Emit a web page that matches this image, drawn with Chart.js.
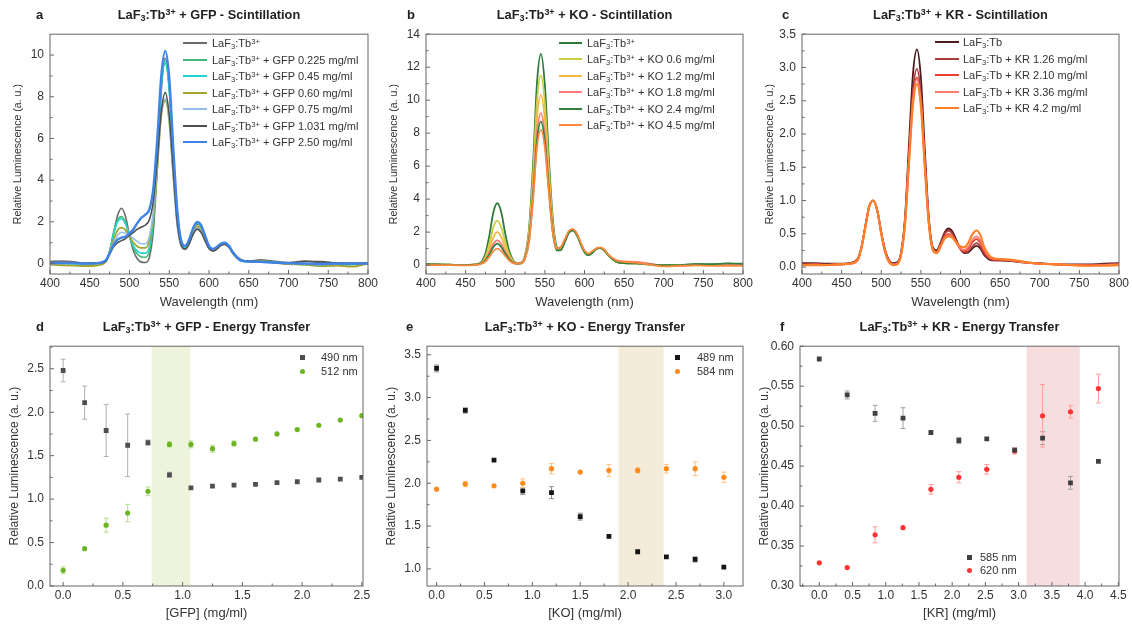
<!DOCTYPE html>
<html>
<head>
<meta charset="utf-8">
<script src="https://cdn.jsdelivr.net/npm/chart.js@4.4.1/dist/chart.umd.min.js"></script>
<style>
  body { margin: 0; background: #fff; font-family: "Liberation Sans", Arial, sans-serif; }
  #page { position: relative; width: 1132px; height: 626px; overflow: hidden; }
  .panel { position: absolute; }
  .panel canvas { display: block; }
  .ttl { position: absolute; font-weight: bold; font-size: 12.8px; line-height: 16px; white-space: nowrap; transform: translateX(-50%); color: #222; }
  .letter { position: absolute; font-weight: bold; font-size: 13px; line-height: 16px; color: #222; }
  .leg { position: absolute; font-size: 11px; color: #333; white-space: nowrap; line-height: 14px; z-index: 2; }
  .leg i { position: absolute; height: 2px; }
  .leg b { position: absolute; font-weight: normal; }
  sub { font-size: 0.7em; vertical-align: -0.25em; line-height: 0; }
  sup { font-size: 0.7em; vertical-align: 0.45em; line-height: 0; }
</style>
</head>
<body>
<div id="page"></div>
<script>
// ---------------------------------------------------------------
// Data
// ---------------------------------------------------------------
const WL = [400, 415, 430, 445, 460,
  470, 475, 480, 485, 490, 495, 500, 505, 510, 515, 520, 525, 530, 535, 540, 545, 550, 555, 560, 565,
  570, 575, 580, 585, 590, 595, 600, 605, 610, 615, 620, 625, 630,
  640, 650, 665, 680, 700, 720, 740, 760, 780, 800];

// a - GFP scintillation
const aLaF3 = [0.10, 0.12, 0.08, 0.02, 0.03,
  0.12, 0.55, 1.45, 2.3, 2.65, 2.25, 1.35, 0.6, 0.22, 0.07, 0.05, 0.3, 1.6, 4.6, 8.3, 9.85, 8.5, 5.2, 2.3, 1.0,
  0.72, 0.98, 1.55, 1.9, 1.75, 1.25, 0.78, 0.62, 0.72, 0.92, 0.97, 0.82, 0.52,
  0.2, 0.12, 0.18, 0.12, 0.05, 0.12, 0.05, 0.02, 0.03, 0.0];
const aGfp0225 = [0.05, 0.0, -0.02, -0.1, -0.05,
  0.1, 0.6, 1.5, 2.1, 2.25, 1.95, 1.3, 0.75, 0.45, 0.32, 0.3, 0.62, 2.0, 5.0, 8.5, 9.6, 8.3, 5.1, 2.3, 1.0,
  0.75, 1.05, 1.6, 1.95, 1.8, 1.3, 0.82, 0.68, 0.78, 0.95, 1.0, 0.85, 0.55,
  0.18, 0.1, 0.12, 0.08, 0.0, -0.02, -0.12, -0.08, -0.05, 0.0];
const aGfp045 = [0.0, 0.02, 0.0, -0.05, -0.03,
  0.1, 0.58, 1.4, 2.0, 2.15, 1.9, 1.35, 0.85, 0.6, 0.5, 0.5, 0.8, 2.2, 5.2, 8.6, 9.7, 8.4, 5.2, 2.3, 1.0,
  0.75, 1.05, 1.6, 1.95, 1.8, 1.3, 0.82, 0.68, 0.78, 0.95, 1.0, 0.85, 0.55,
  0.15, 0.08, 0.1, 0.05, 0.0, -0.05, -0.08, -0.05, -0.02, 0.0];
const aGfp060 = [-0.05, -0.08, -0.1, -0.12, -0.08,
  0.08, 0.55, 1.15, 1.6, 1.72, 1.6, 1.3, 1.0, 0.82, 0.75, 0.75, 1.1, 2.3, 4.6, 7.1, 7.8, 6.8, 4.2, 1.9, 0.85,
  0.68, 0.95, 1.5, 1.8, 1.6, 1.15, 0.75, 0.62, 0.72, 0.9, 0.95, 0.8, 0.5,
  0.15, 0.1, 0.12, 0.05, -0.02, -0.05, -0.12, -0.1, -0.15, 0.0];
const aGfp075 = [0.0, 0.02, 0.0, -0.03, 0.0,
  0.1, 0.5, 1.0, 1.35, 1.5, 1.45, 1.35, 1.2, 1.05, 0.95, 0.95, 1.3, 2.5, 4.8, 7.2, 7.9, 6.9, 4.3, 1.9, 0.85,
  0.7, 0.95, 1.45, 1.7, 1.55, 1.1, 0.72, 0.62, 0.72, 0.9, 0.95, 0.8, 0.5,
  0.12, 0.1, 0.08, 0.05, 0.0, 0.0, -0.05, -0.02, 0.0, 0.02];
const aGfp1031 = [0.05, 0.05, 0.02, 0.0, 0.02,
  0.1, 0.45, 0.8, 1.0, 1.1, 1.2, 1.35, 1.5, 1.65, 1.75, 1.85, 2.1, 3.0, 5.0, 7.3, 8.2, 7.1, 4.5, 2.0, 0.9,
  0.7, 0.95, 1.4, 1.65, 1.5, 1.1, 0.72, 0.6, 0.7, 0.88, 0.92, 0.78, 0.5,
  0.15, 0.12, 0.1, 0.05, 0.0, 0.1, 0.1, 0.02, 0.0, 0.02];
const aGfp250 = [0.02, 0.03, 0.02, 0.0, 0.02,
  0.15, 0.5, 0.9, 1.15, 1.25, 1.3, 1.45, 1.65, 1.95, 2.2, 2.35, 2.6, 3.6, 6.0, 9.0, 10.2, 8.9, 5.6, 2.6, 1.1,
  0.85, 1.15, 1.7, 2.0, 1.85, 1.35, 0.85, 0.7, 0.8, 0.95, 1.0, 0.85, 0.55,
  0.15, 0.1, 0.08, 0.05, 0.02, 0.0, -0.02, 0.0, 0.0, 0.0];
const aLabels = ['LaF3:Tb3+', 'LaF3:Tb3+ + GFP 0.225 mg/ml', 'LaF3:Tb3+ + GFP 0.45 mg/ml', 'LaF3:Tb3+ + GFP 0.60 mg/ml',
  'LaF3:Tb3+ + GFP 0.75 mg/ml', 'LaF3:Tb3+ + GFP 1.031 mg/ml', 'LaF3:Tb3+ + GFP 2.50 mg/ml'];
const aColors = ['#6b6b6b', '#3dba79', '#25d4d4', '#a5a52c', '#93bfe9', '#4f4f4f', '#3f83e6'];

// b - KO scintillation
const bLaF3 = [0.05, 0.05, 0.02, 0.0, 0.02,
  0.2, 0.7, 1.8, 3.2, 3.75, 3.2, 1.9, 0.85, 0.3, 0.12, 0.15, 0.6, 2.2, 6.0, 11.0, 12.8, 10.9, 6.5, 2.8, 1.1,
  0.95, 1.4, 1.95, 2.1, 1.85, 1.3, 0.8, 0.6, 0.75, 1.0, 1.05, 0.9, 0.6,
  0.2, 0.12, 0.1, 0.05, 0.0, 0.0, 0.05, 0.03, 0.08, 0.05];
const bKo06 = [0.03, 0.03, 0.02, 0.0, 0.02,
  0.15, 0.5, 1.3, 2.3, 2.7, 2.3, 1.4, 0.65, 0.25, 0.1, 0.13, 0.55, 2.0, 5.4, 9.9, 11.5, 9.8, 5.9, 2.5, 1.0,
  0.95, 1.45, 2.0, 2.15, 1.9, 1.3, 0.8, 0.62, 0.78, 1.0, 1.05, 0.9, 0.6,
  0.2, 0.12, 0.1, 0.05, -0.02, 0.0, 0.02, 0.0, 0.02, 0.0];
const bKo12 = [0.02, 0.02, 0.0, 0.0, 0.02,
  0.12, 0.38, 0.95, 1.7, 2.0, 1.7, 1.05, 0.5, 0.2, 0.1, 0.12, 0.5, 1.8, 4.9, 8.9, 10.3, 8.8, 5.3, 2.3, 1.0,
  1.0, 1.5, 2.0, 2.15, 1.9, 1.3, 0.82, 0.65, 0.8, 1.0, 1.05, 0.9, 0.6,
  0.22, 0.15, 0.12, 0.05, -0.05, -0.02, 0.0, 0.0, 0.0, 0.0];
const bKo18 = [0.02, 0.0, 0.0, 0.0, 0.02,
  0.1, 0.3, 0.75, 1.28, 1.5, 1.28, 0.8, 0.4, 0.17, 0.1, 0.12, 0.45, 1.6, 4.4, 8.0, 9.2, 7.9, 4.8, 2.1, 1.0,
  1.05, 1.5, 2.0, 2.15, 1.9, 1.35, 0.85, 0.68, 0.82, 1.0, 1.05, 0.92, 0.62,
  0.3, 0.22, 0.2, 0.1, -0.05, -0.05, 0.0, 0.0, 0.0, 0.0];
const bKo24 = [0.05, 0.03, 0.02, 0.0, 0.02,
  0.1, 0.27, 0.65, 1.1, 1.3, 1.1, 0.7, 0.35, 0.15, 0.08, 0.1, 0.42, 1.5, 4.1, 7.5, 8.7, 7.5, 4.6, 2.0, 0.9,
  0.9, 1.4, 1.95, 2.1, 1.85, 1.3, 0.8, 0.6, 0.75, 0.98, 1.03, 0.9, 0.6,
  0.2, 0.12, 0.1, 0.05, 0.0, 0.0, 0.05, 0.05, 0.1, 0.08];
const bKo45 = [0.0, 0.0, 0.0, -0.02, 0.0,
  0.08, 0.22, 0.5, 0.85, 1.0, 0.85, 0.55, 0.28, 0.12, 0.08, 0.1, 0.4, 1.4, 3.9, 7.1, 8.2, 7.1, 4.4, 1.95, 1.0,
  1.1, 1.55, 2.05, 2.2, 1.95, 1.4, 0.88, 0.7, 0.85, 1.02, 1.08, 0.95, 0.65,
  0.28, 0.2, 0.15, 0.05, -0.08, -0.05, -0.02, -0.05, -0.05, -0.05];
const bLabels = ['LaF3:Tb3+', 'LaF3:Tb3+ + KO 0.6 mg/ml', 'LaF3:Tb3+ + KO 1.2 mg/ml', 'LaF3:Tb3+ + KO 1.8 mg/ml',
  'LaF3:Tb3+ + KO 2.4 mg/ml', 'LaF3:Tb3+ + KO 4.5 mg/ml'];
const bColors = ['#2e7a3b', '#c9cc45', '#f6b843', '#ff7a7a', '#33803f', '#ff8a3d'];

// c - KR scintillation
const cLaF3 = [0.06, 0.06, 0.05, 0.05, 0.06,
  0.12, 0.3, 0.62, 0.92, 1.0, 0.85, 0.52, 0.25, 0.1, 0.06, 0.07, 0.22, 0.75, 1.85, 2.9, 3.27, 2.85, 1.75, 0.75, 0.3,
  0.25, 0.37, 0.52, 0.58, 0.53, 0.4, 0.27, 0.21, 0.22, 0.28, 0.32, 0.28, 0.18,
  0.1, 0.1, 0.09, 0.07, 0.06, 0.04, 0.04, 0.04, 0.05, 0.06];
const cKr126 = [0.04, 0.04, 0.04, 0.04, 0.05,
  0.11, 0.3, 0.62, 0.92, 1.0, 0.85, 0.52, 0.24, 0.09, 0.05, 0.06, 0.2, 0.7, 1.7, 2.65, 2.98, 2.6, 1.6, 0.7, 0.28,
  0.23, 0.35, 0.5, 0.55, 0.5, 0.38, 0.27, 0.22, 0.24, 0.31, 0.36, 0.31, 0.2,
  0.11, 0.1, 0.09, 0.07, 0.05, 0.04, 0.03, 0.03, 0.04, 0.05];
const cKr210 = [0.04, 0.04, 0.03, 0.04, 0.05,
  0.11, 0.29, 0.61, 0.92, 1.0, 0.85, 0.51, 0.23, 0.08, 0.04, 0.05, 0.19, 0.67, 1.62, 2.53, 2.85, 2.5, 1.55, 0.68, 0.27,
  0.22, 0.33, 0.46, 0.5, 0.46, 0.36, 0.27, 0.24, 0.28, 0.37, 0.42, 0.36, 0.23,
  0.12, 0.11, 0.1, 0.07, 0.05, 0.04, 0.03, 0.03, 0.03, 0.04];
const cKr336 = [0.03, 0.04, 0.03, 0.04, 0.05,
  0.1, 0.29, 0.61, 0.92, 1.0, 0.85, 0.5, 0.22, 0.08, 0.04, 0.05, 0.19, 0.66, 1.6, 2.5, 2.82, 2.47, 1.53, 0.67, 0.27,
  0.22, 0.32, 0.44, 0.48, 0.45, 0.36, 0.28, 0.26, 0.31, 0.41, 0.46, 0.4, 0.26,
  0.13, 0.12, 0.1, 0.07, 0.05, 0.04, 0.03, 0.02, 0.03, 0.04];
const cKr42 = [0.03, 0.03, 0.03, 0.04, 0.05,
  0.1, 0.28, 0.6, 0.92, 1.0, 0.85, 0.5, 0.22, 0.07, 0.03, 0.04, 0.18, 0.64, 1.56, 2.44, 2.75, 2.42, 1.5, 0.66, 0.26,
  0.21, 0.31, 0.43, 0.46, 0.44, 0.37, 0.31, 0.3, 0.37, 0.49, 0.55, 0.48, 0.3,
  0.14, 0.12, 0.11, 0.08, 0.05, 0.04, 0.03, 0.02, 0.02, 0.03];
const cLabels = ['LaF3:Tb', 'LaF3:Tb + KR 1.26 mg/ml', 'LaF3:Tb + KR 2.10 mg/ml', 'LaF3:Tb + KR 3.36 mg/ml', 'LaF3:Tb + KR 4.2 mg/ml'];
const cColors = ['#4a1c1c', '#a83a3a', '#ee3c2c', '#ff7d6e', '#ff8028'];

// d - GFP energy transfer
const gfpConc = [0, 0.18, 0.36, 0.54, 0.71, 0.89, 1.07, 1.25, 1.43, 1.61, 1.79, 1.96, 2.14, 2.32, 2.5];
const gfp490 = [2.48, 2.11, 1.79, 1.62, 1.65, 1.28, 1.13, 1.15, 1.16, 1.17, 1.19, 1.20, 1.22, 1.23, 1.25];
const gfp490Err = [0.13, 0.19, 0.30, 0.36, 0.03, 0.03, 0.02, 0.02, 0.02, 0.01, 0.01, 0.01, 0.01, 0.01, 0.01];
const gfp512 = [0.18, 0.43, 0.70, 0.84, 1.09, 1.63, 1.63, 1.58, 1.64, 1.69, 1.75, 1.80, 1.85, 1.91, 1.96];
const gfp512Err = [0.04, 0.02, 0.08, 0.10, 0.05, 0.03, 0.04, 0.04, 0.03, 0.02, 0.02, 0.01, 0.01, 0.01, 0.01];

// e - KO energy transfer
const koConc = [0, 0.3, 0.6, 0.9, 1.2, 1.5, 1.8, 2.1, 2.4, 2.7, 3.0];
const ko489 = [3.34, 2.85, 2.27, 1.91, 1.89, 1.61, 1.38, 1.20, 1.14, 1.11, 1.02];
const ko489Err = [0.04, 0.03, 0.02, 0.04, 0.07, 0.04, 0.02, 0.02, 0.02, 0.03, 0.02];
const ko584 = [1.93, 1.99, 1.97, 2.00, 2.17, 2.13, 2.15, 2.15, 2.17, 2.17, 2.07];
const ko584Err = [0.01, 0.03, 0.02, 0.05, 0.06, 0.02, 0.07, 0.03, 0.05, 0.08, 0.06];

// f - KR energy transfer
const krConc = [0, 0.42, 0.84, 1.26, 1.68, 2.1, 2.52, 2.94, 3.36, 3.78, 4.2];
const kr585 = [0.584, 0.539, 0.516, 0.510, 0.492, 0.482, 0.484, 0.470, 0.485, 0.429, 0.456];
const kr585Err = [0.001, 0.005, 0.010, 0.013, 0.003, 0.004, 0.002, 0.003, 0.008, 0.008, 0.002];
const kr620 = [0.329, 0.323, 0.364, 0.373, 0.421, 0.436, 0.446, 0.469, 0.513, 0.518, 0.547];
const kr620Err = [0.001, 0.001, 0.010, 0.002, 0.006, 0.007, 0.006, 0.004, 0.039, 0.008, 0.018];

// ---------------------------------------------------------------
// Helpers
// ---------------------------------------------------------------
Chart.defaults.font.family = '"Liberation Sans", Arial, sans-serif';
Chart.defaults.color = '#333';
Chart.defaults.animation = false;

const page = document.getElementById('page');
const YW = 44, PT = 10, PR = 16;

const richText = (s) => s.replace('LaF3', 'LaF<sub>3</sub>').replace('Tb3+', 'Tb<sup>3+</sup>');

// frame + inward ticks, band, error bars
const extrasPlugin = {
  id: 'extras',
  beforeDatasetsDraw(chart, args, opts) {
    const { ctx, chartArea: a, scales: { x, y } } = chart;
    ctx.save();
    if (opts.band) {
      const x1 = x.getPixelForValue(opts.band.from), x2 = x.getPixelForValue(opts.band.to);
      ctx.fillStyle = opts.band.color;
      ctx.fillRect(x1, a.top, x2 - x1, a.bottom - a.top);
    }
    chart.data.datasets.forEach((ds) => {
      if (!ds.errors) return;
      ctx.strokeStyle = ds.errColor;
      ctx.lineWidth = 1;
      ds.data.forEach((pt, i) => {
        const e = ds.errors[i];
        const px = x.getPixelForValue(pt.x);
        const y1 = y.getPixelForValue(pt.y - e), y2 = y.getPixelForValue(pt.y + e);
        if (Math.abs(y1 - y2) < 5) return;
        ctx.beginPath();
        ctx.moveTo(px, y1); ctx.lineTo(px, y2);
        ctx.moveTo(px - 2.5, y1); ctx.lineTo(px + 2.5, y1);
        ctx.moveTo(px - 2.5, y2); ctx.lineTo(px + 2.5, y2);
        ctx.stroke();
      });
    });
    ctx.restore();
  },
  afterDraw(chart) {
    const { ctx, chartArea: a, scales: { x, y } } = chart;
    ctx.save();
    ctx.strokeStyle = '#666';
    ctx.lineWidth = 1;
    ctx.strokeRect(a.left, a.top, a.right - a.left, a.bottom - a.top);
    const marks = (scale) => {
      const vals = scale.ticks.map((t) => t.value);
      const step = vals[1] - vals[0];
      const minor = [vals[0] - step / 2, ...vals.map((v) => v + step / 2)]
        .filter((v) => v > scale.min + 1e-9 && v < scale.max - 1e-9);
      return { vals, minor };
    };
    const mx = marks(x), my = marks(y);
    ctx.beginPath();
    mx.vals.forEach((v) => { const p = x.getPixelForValue(v); ctx.moveTo(p, a.bottom); ctx.lineTo(p, a.bottom - 4); });
    mx.minor.forEach((v) => { const p = x.getPixelForValue(v); ctx.moveTo(p, a.bottom); ctx.lineTo(p, a.bottom - 2.5); });
    my.vals.forEach((v) => { const p = y.getPixelForValue(v); ctx.moveTo(a.left, p); ctx.lineTo(a.left + 4, p); });
    my.minor.forEach((v) => { const p = y.getPixelForValue(v); ctx.moveTo(a.left, p); ctx.lineTo(a.left + 2.5, p); });
    ctx.stroke();
    ctx.restore();
  },
};

function addText(cls, html, left, top) {
  const el = document.createElement('div');
  el.className = cls;
  el.innerHTML = html;
  el.style.left = left + 'px';
  el.style.top = top + 'px';
  page.appendChild(el);
}

function lineLegend(labels, colors, x0, x1, tx, y0, dy) {
  labels.forEach((lab, i) => {
    const cy = y0 + i * dy;
    addText('leg', `<i style="left:0;top:${cy - 1}px;width:${x1 - x0}px;background:${colors[i]}"></i>`, x0, 0);
    addText('leg', richText(lab), tx, cy - 7);
  });
}

function pointLegend(items, mx, tx, y0, dy) {
  items.forEach((it, i) => {
    const cy = y0 + i * dy;
    const r = it.style === 'rect' ? 0 : 50;
    addText('leg', `<i style="left:0;top:0;width:5px;height:5px;border-radius:${r}%;background:${it.color}"></i>`, mx - 2.5, cy - 2.5);
    addText('leg', it.label, tx, cy - 7);
  });
}

function makePanel(p) {
  const W = p.r - p.l + YW + PR, H = p.b - p.t + PT + p.xh;
  const box = document.createElement('div');
  box.className = 'panel';
  Object.assign(box.style, { left: (p.l - YW) + 'px', top: (p.t - PT) + 'px', width: W + 'px', height: H + 'px' });
  const cv = document.createElement('canvas');
  cv.width = W; cv.height = H;
  box.appendChild(cv);
  page.appendChild(box);

  addText('ttl', richText(p.title), (p.l + p.r) / 2, p.titleY - 8);
  addText('letter', p.letter, p.letterX, p.titleY - 8);

  new Chart(cv, {
    type: p.type,
    data: { datasets: p.datasets },
    options: {
      responsive: false,
      layout: { padding: { top: PT, right: PR, left: 0, bottom: 0 } },
      plugins: { legend: { display: false }, tooltip: { enabled: false }, extras: { band: p.band } },
      scales: {
        x: {
          type: 'linear', min: p.x[0], max: p.x[1],
          grid: { display: false, drawTicks: false }, border: { display: false },
          ticks: { stepSize: p.x[2], includeBounds: false, autoSkip: false, maxRotation: 0, padding: 2,
            font: { size: 12 }, callback: (v) => Number(v).toFixed(p.x[3]) },
          title: { display: true, text: p.xTitle, font: { size: 13 }, padding: { top: 0, bottom: 4 } },
          afterFit: (s) => { s.height = p.xh; },
        },
        y: {
          type: 'linear', min: p.y[0], max: p.y[1],
          grid: { display: false, drawTicks: false }, border: { display: false },
          ticks: { stepSize: p.y[2], includeBounds: false, autoSkip: false, padding: 6,
            font: { size: 12 }, callback: (v) => Number(v).toFixed(p.y[3]) },
          title: { display: true, text: 'Relative Luminescence (a. u.)', font: { size: p.yFont },
            padding: { top: p.yPad, bottom: 0 } },
          afterFit: (s) => { s.width = YW; },
        },
      },
    },
    plugins: [extrasPlugin],
  });
}

const spectra = (arrays, colors, labels, widths) => arrays.map((arr, i) => ({
  label: labels[i],
  data: WL.map((w, k) => ({ x: w, y: arr[k] })),
  borderColor: colors[i],
  borderWidth: widths[i],
  pointRadius: 0,
  cubicInterpolationMode: 'monotone',
  order: arrays.length - i,
}));

const scatter = (xs, ys, errs, color, errColor, style, radius, label) => ({
  label,
  data: xs.map((x, i) => ({ x, y: ys[i] })),
  errors: errs,
  errColor,
  showLine: false,
  pointStyle: style,
  pointRadius: radius,
  backgroundColor: color,
  borderColor: color,
  borderWidth: 0,
});

// ---------------------------------------------------------------
// Top row: scintillation spectra
// ---------------------------------------------------------------
makePanel({
  l: 50, t: 31, r: 368, b: 274, xh: 40, type: 'line',
  x: [400, 800, 50, 0], y: [-0.5, 11, 2, 0], yFont: 10.6, yPad: 5.6,
  xTitle: 'Wavelength (nm)', title: 'LaF3:Tb3+ + GFP - Scintillation', letter: 'a', letterX: 36, titleY: 15,
  datasets: spectra([aLaF3, aGfp0225, aGfp045, aGfp060, aGfp075, aGfp1031, aGfp250], aColors, aLabels,
    [1.6, 1.6, 1.6, 1.8, 1.6, 1.6, 2.4]),
});
lineLegend(aLabels, aColors, 183, 207, 212, 43, 16.5);

makePanel({
  l: 426, t: 31, r: 743, b: 274, xh: 40, type: 'line',
  x: [400, 800, 50, 0], y: [-0.54, 14, 2, 0], yFont: 10.6, yPad: 5.6,
  xTitle: 'Wavelength (nm)', title: 'LaF3:Tb3+ + KO - Scintillation', letter: 'b', letterX: 407, titleY: 15,
  datasets: spectra([bLaF3, bKo06, bKo12, bKo18, bKo24, bKo45], bColors, bLabels, [1.8, 1.8, 1.8, 1.8, 1.8, 1.8]),
});
lineLegend(bLabels, bColors, 559, 582, 587, 43, 16.4);

makePanel({
  l: 802, t: 31, r: 1119, b: 274, xh: 40, type: 'line',
  x: [400, 800, 50, 0], y: [-0.104, 3.5, 0.5, 1], yFont: 10.6, yPad: 5.6,
  xTitle: 'Wavelength (nm)', title: 'LaF3:Tb3+ + KR - Scintillation', letter: 'c', letterX: 782, titleY: 15,
  datasets: spectra([cLaF3, cKr126, cKr210, cKr336, cKr42], cColors, cLabels, [1.8, 1.8, 1.8, 1.8, 2.2]),
});
lineLegend(cLabels, cColors, 935, 959, 963, 42, 16.5);

// ---------------------------------------------------------------
// Bottom row: energy transfer
// ---------------------------------------------------------------
makePanel({
  l: 50, t: 343, r: 363, b: 586, xh: 39, type: 'scatter',
  x: [-0.11, 2.51, 0.5, 1], y: [0, 2.76, 0.5, 1], yFont: 12, yPad: 1.8,
  xTitle: '[GFP] (mg/ml)', title: 'LaF3:Tb3+ + GFP - Energy Transfer', letter: 'd', letterX: 36, titleY: 327,
  band: { from: 0.74, to: 1.065, color: '#eef3dc' },
  datasets: [
    scatter(gfpConc, gfp490, gfp490Err, '#4f4f4f', '#b0b0b0', 'rect', 3.4, '490 nm'),
    scatter(gfpConc, gfp512, gfp512Err, '#6cb521', '#b8dc8c', 'circle', 2.6, '512 nm'),
  ],
});
pointLegend([{ label: '490 nm', color: '#4f4f4f', style: 'rect' }, { label: '512 nm', color: '#6cb521', style: 'circle' }], 302, 321, 357, 14);

makePanel({
  l: 427, t: 343, r: 743, b: 586, xh: 39, type: 'scatter',
  x: [-0.1, 3.2, 0.5, 1], y: [0.8, 3.6, 0.5, 1], yFont: 12, yPad: 1.8,
  xTitle: '[KO] (mg/ml)', title: 'LaF3:Tb3+ + KO - Energy Transfer', letter: 'e', letterX: 406, titleY: 327,
  band: { from: 1.9, to: 2.37, color: '#f4ebd9' },
  datasets: [
    scatter(koConc, ko489, ko489Err, '#151515', '#8c8c8c', 'rect', 3.4, '489 nm'),
    scatter(koConc, ko584, ko584Err, '#ff8c1a', '#ffc285', 'circle', 2.6, '584 nm'),
  ],
});
pointLegend([{ label: '489 nm', color: '#151515', style: 'rect' }, { label: '584 nm', color: '#ff8c1a', style: 'circle' }], 677, 697, 357, 14);

makePanel({
  l: 800, t: 343, r: 1119, b: 586, xh: 39, type: 'scatter',
  x: [-0.29, 4.51, 0.5, 1], y: [0.3, 0.6, 0.05, 2], yFont: 12, yPad: 1.8,
  xTitle: '[KR] (mg/ml)', title: 'LaF3:Tb3+ + KR - Energy Transfer', letter: 'f', letterX: 780, titleY: 327,
  band: { from: 3.12, to: 3.92, color: '#f7dede' },
  datasets: [
    scatter(krConc, kr585, kr585Err, '#404040', '#a0a0a0', 'rect', 3.4, '585 nm'),
    scatter(krConc, kr620, kr620Err, '#ff3434', '#ff9d9d', 'circle', 2.6, '620 nm'),
  ],
});
pointLegend([{ label: '585 nm', color: '#404040', style: 'rect' }, { label: '620 nm', color: '#ff3434', style: 'circle' }], 969, 980, 557, 13);
</script>
</body>
</html>
